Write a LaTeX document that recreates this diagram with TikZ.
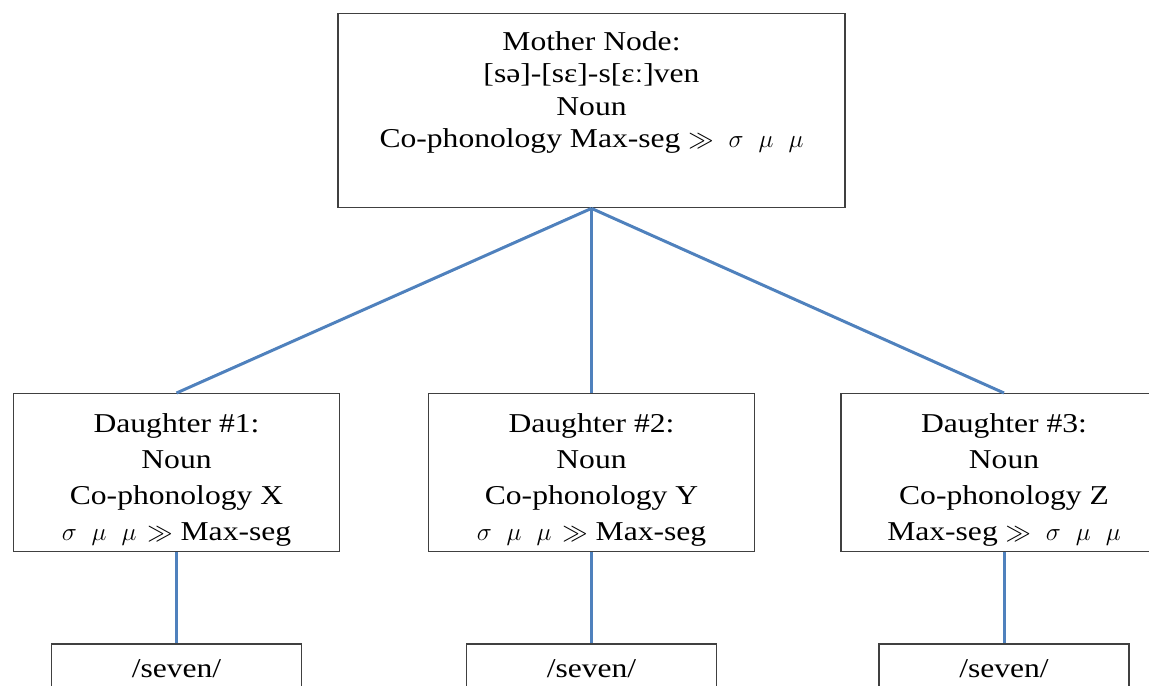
\documentclass[tikz,border=0pt]{standalone}
\usepackage{fontspec}
\setmainfont{Liberation Serif}[FakeStretch=1.16]
\usetikzlibrary{positioning}
\definecolor{link}{HTML}{4F81BD}
\definecolor{frame}{HTML}{404040}
\newcommand{\sgap}{\hspace{0.55em}}
\newcommand{\smm}{$\sigma$\sgap$\mu$\sgap$\mu$}

\begin{document}
\begin{tikzpicture}[
  box/.style={draw=frame,line width=0.8pt,align=center,inner sep=0pt,
    font=\fontsize{15.5}{18.5}\selectfont},
  dau/.style={box,minimum width=6.52cm,text height=2.94cm,text depth=0.22cm,
    font=\fontsize{15.5}{20.5}\selectfont},
  leaf/.style={box,minimum width=5cm,text height=0.66cm,text depth=0.4cm},
  branch/.style={link,line width=1.7pt}]
  \useasboundingbox (0,0) rectangle (22.98,-13.72);
  \clip (0,0) rectangle (22.98,-13.72);

  % Mother node
  \node[box,minimum width=10.14cm,text height=2.68cm,text depth=1.2cm,anchor=north]
    (mother) at (11.83,-0.26)
    {Mother Node:\\ {}[sə]-[sɛ]-s[ɛː]ven\\ Noun\\
     Co-phonology Max-seg $\gg$\sgap\smm};

  % Daughters
  \node[dau,anchor=north] (dau1) at (3.53,-7.86)
    {Daughter \#1:\\ Noun\\ Co-phonology X\\ \smm\hspace{0.4em}$\gg$ Max-seg};
  \node[dau,anchor=north] (dau2) at (11.83,-7.86)
    {Daughter \#2:\\ Noun\\ Co-phonology Y\\ \smm\hspace{0.4em}$\gg$ Max-seg};
  \node[dau,anchor=north] (dau3) at (20.08,-7.86)
    {Daughter \#3:\\ Noun\\ Co-phonology Z\\ Max-seg $\gg$\sgap\smm};

  % Outputs and branches
  \foreach \i in {1,2,3} {
    \node[leaf,anchor=north] (out\i) at ([yshift=-1.82cm]dau\i.south) {/seven/};
    \draw[branch] (mother.south) -- (dau\i.north);
    \draw[branch] (dau\i.south) -- (out\i.north);
  }
\end{tikzpicture}
\end{document}
